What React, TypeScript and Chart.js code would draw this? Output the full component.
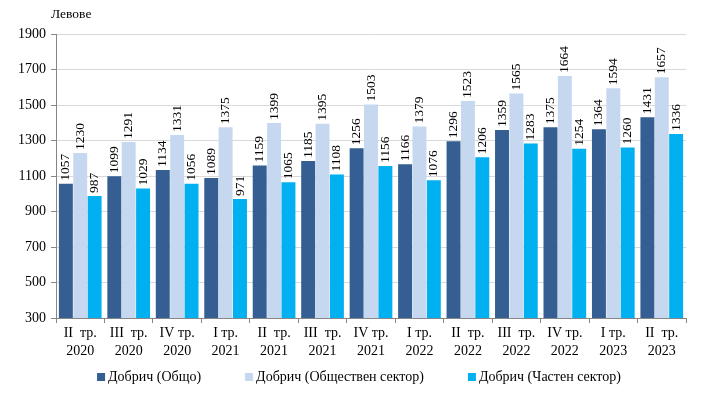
import React, { useEffect, useRef } from "react";
import { Chart, registerables } from "chart.js";

Chart.register(...registerables);

const categories: string[][] = [
  ["II  тр.", "2020"], ["III  тр.", "2020"], ["IV тр.", "2020"], ["I тр.", "2021"],
  ["II  тр.", "2021"], ["III  тр.", "2021"], ["IV тр.", "2021"], ["I тр.", "2022"],
  ["II  тр.", "2022"], ["III  тр.", "2022"], ["IV тр.", "2022"], ["I тр.", "2023"],
  ["II  тр.", "2023"],
];
const seriesNames = ["Добрич (Общо)", "Добрич (Обществен сектор)", "Добрич (Частен сектор)"];
const totalValues = [1057, 1099, 1134, 1089, 1159, 1185, 1256, 1166, 1296, 1359, 1375, 1364, 1431];
const publicValues = [1230, 1291, 1331, 1375, 1399, 1395, 1503, 1379, 1523, 1565, 1664, 1594, 1657];
const privateValues = [987, 1029, 1056, 971, 1065, 1108, 1156, 1076, 1206, 1283, 1254, 1260, 1336];
const yMin = 300;
const yMax = 1900;
const yStep = 200;
const unitLabel = "Левове";

const colors = ["#355E92", "#C6D8F0", "#00B0F0"];
const FONT = "'Liberation Serif', 'Times New Roman', serif";

const labelPlugin = {
  id: "valueLabels",
  afterDatasetsDraw(chart: any) {
    const ctx = chart.ctx;
    ctx.save();
    ctx.font = `13.5px ${FONT}`;
    ctx.fillStyle = "#000";
    ctx.textAlign = "left";
    ctx.textBaseline = "middle";
    chart.data.datasets.forEach((ds: any, i: number) => {
      const meta = chart.getDatasetMeta(i);
      meta.data.forEach((el: any, j: number) => {
        ctx.save();
        ctx.translate(el.x, el.y - 3);
        ctx.rotate(-Math.PI / 2);
        ctx.fillText(String(ds.data[j]), 0, 0);
        ctx.restore();
      });
    });
    // unit label
    ctx.textBaseline = "alphabetic";
    ctx.font = `13.5px ${FONT}`;
    ctx.fillText(unitLabel, chart.chartArea.left - 5, 18);
    // legend
    const box = 8;
    const gap = 44;
    ctx.font = `14px ${FONT}`;
    const widths = chart.data.datasets.map((ds: any) => box + 3 + ctx.measureText(ds.label).width);
    const total = widths.reduce((a: number, b: number) => a + b, 0) + gap * (widths.length - 1);
    let x = chart.width / 2 - total / 2 + 8;
    const yc = 377;
    chart.data.datasets.forEach((ds: any, i: number) => {
      ctx.fillStyle = ds.backgroundColor;
      ctx.fillRect(x, yc - box / 2, box, box);
      ctx.fillStyle = "#000";
      ctx.textBaseline = "middle";
      ctx.fillText(ds.label, x + box + 3, yc);
      x += widths[i] + gap;
    });
    ctx.restore();
  },
};

export default function App() {
  const ref = useRef<HTMLCanvasElement>(null);
  useEffect(() => {
    document.body.style.margin = "0";
    const chart = new Chart(ref.current!, {
      type: "bar",
      data: {
        labels: categories,
        datasets: [
          { label: seriesNames[0], data: totalValues, backgroundColor: colors[0] },
          { label: seriesNames[1], data: publicValues, backgroundColor: colors[1] },
          { label: seriesNames[2], data: privateValues, backgroundColor: colors[2] },
        ],
      },
      options: {
        animation: false,
        responsive: false,
        maintainAspectRatio: false,
        layout: { padding: { top: 34, right: 16, bottom: 33, left: 0 } },
        datasets: { bar: { categoryPercentage: 0.89, barPercentage: 0.97 } } as any,
        plugins: {
          legend: { display: false },
          tooltip: { enabled: false },
          title: { display: false },
        },
        scales: {
          x: {
            grid: { drawOnChartArea: false, drawTicks: true, tickLength: 5, color: "#868686", offset: true },
            border: { color: "#868686" },
            ticks: {
              color: "#000",
              font: { family: FONT, size: 14, lineHeight: 1.25 },
              maxRotation: 0,
              autoSkip: false,
              padding: 2,
            },
            afterFit(scale: any) {
              scale.height = 42;
            },
          },
          y: {
            min: yMin,
            max: yMax,
            grid: { color: "#D9D9D9", tickLength: 5, tickColor: "#868686" },
            border: { color: "#868686" },
            ticks: {
              stepSize: yStep,
              color: "#000",
              font: { family: FONT, size: 14 },
              padding: 5,
              callback: (v: any) => String(v),
            },
            afterFit(scale: any) {
              scale.width = 56;
            },
          },
        },
      },
      plugins: [labelPlugin],
    });
    return () => chart.destroy();
  }, []);
  return (
    <div style={{ width: 702, height: 393 }}>
      <canvas ref={ref} width={702} height={393} style={{ width: 702, height: 393, display: "block" }} />
    </div>
  );
}
